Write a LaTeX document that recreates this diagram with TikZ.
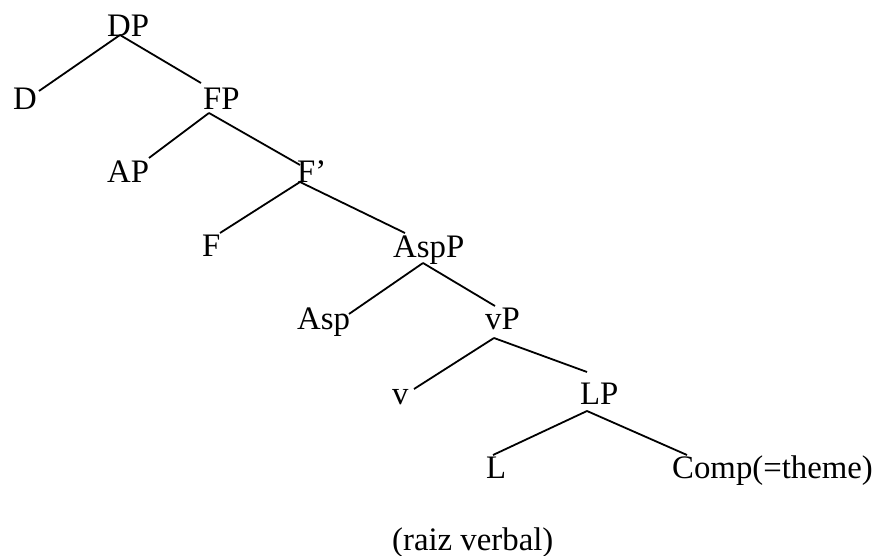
\documentclass[tikz,border=0pt]{standalone}
\usepackage{fontspec}
\setmainfont{Liberation Serif}
\begin{document}
\begin{tikzpicture}[x=1bp,y=-1bp,
  lbl/.style={anchor=base west,inner sep=0pt,font=\fontsize{32.8bp}{40bp}\selectfont},
  branch/.style={line width=1.8bp,line cap=butt}]
\useasboundingbox (0,0) rectangle (872,556);
% category labels, placed by their left end and baseline
\node[lbl] (DP)   at (107,37)  {DP};
\node[lbl] (D)    at (13,110)  {D};
\node[lbl] (FP)   at (203,110) {FP};
\node[lbl] (AP)   at (107,183) {AP};
\node[lbl] (Fbar) at (297,183) {F’};
\node[lbl] (F)    at (202,257) {F};
\node[lbl] (AspP) at (393,258) {AspP};
\node[lbl] (Asp)  at (297,330) {Asp};
\node[lbl] (vP)   at (485,330) {vP};
\node[lbl] (v)    at (392,404) {v};
\node[lbl] (LP)   at (580,404) {LP};
\node[lbl] (L)    at (486,478) {L};
\node[lbl] (Comp) at (672,478) {Comp(=theme)};
\node[lbl] (root) at (392,550) {(raiz verbal)};
% branches
\draw[branch] ([shift={(13,-2)}]DP.base west) -- ([shift={(26,-19)}]D.base west);
\draw[branch] ([shift={(13,-2)}]DP.base west) -- ([shift={(-2,-27)}]FP.base west);
\draw[branch] ([shift={(6,3)}]FP.base west) -- ([shift={(42,-25)}]AP.base west);
\draw[branch] ([shift={(6,3)}]FP.base west) -- ([shift={(3,-18)}]Fbar.base west);
\draw[branch] ([shift={(3,-1)}]Fbar.base west) -- ([shift={(18,-24)}]F.base west);
\draw[branch] ([shift={(3,-1)}]Fbar.base west) -- ([shift={(12,-25)}]AspP.base west);
\draw[branch] ([shift={(30,5)}]AspP.base west) -- ([shift={(52,-16)}]Asp.base west);
\draw[branch] ([shift={(30,5)}]AspP.base west) -- ([shift={(10,-24)}]vP.base west);
\draw[branch] ([shift={(9,8)}]vP.base west) -- ([shift={(22,-15)}]v.base west);
\draw[branch] ([shift={(9,8)}]vP.base west) -- ([shift={(7,-32)}]LP.base west);
\draw[branch] ([shift={(7,7)}]LP.base west) -- ([shift={(7,-23)}]L.base west);
\draw[branch] ([shift={(7,7)}]LP.base west) -- ([shift={(15,-23)}]Comp.base west);
\end{tikzpicture}
\end{document}
